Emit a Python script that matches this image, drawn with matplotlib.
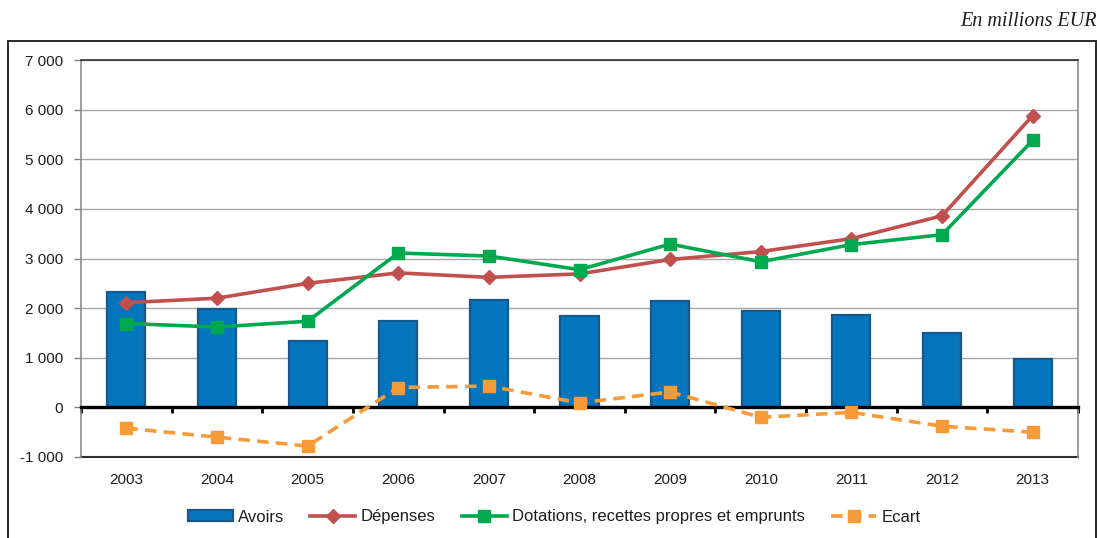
import numpy as np
import matplotlib
matplotlib.use("Agg")
import matplotlib.pyplot as plt
from matplotlib.patches import Rectangle
from matplotlib.lines import Line2D
from matplotlib.ticker import FuncFormatter

plt.rcParams['font.family'] = ['Liberation Sans', 'DejaVu Sans']

years = ["2003", "2004", "2005", "2006", "2007", "2008", "2009", "2010", "2011", "2012", "2013"]
avoirs = [2330, 1990, 1340, 1750, 2170, 1840, 2140, 1940, 1860, 1490, 975]
depenses = [2110, 2200, 2500, 2710, 2620, 2690, 2980, 3140, 3400, 3860, 5880]
dotations = [1690, 1620, 1735, 3110, 3050, 2775, 3290, 2935, 3280, 3480, 5380]
ecart = [-420, -600, -780, 400, 430, 90, 310, -200, -100, -380, -500]

yticks = [-1000, 0, 1000, 2000, 3000, 4000, 5000, 6000, 7000]

BLUE = "#0575BE"
BLUE_EDGE = "#17588C"
RED = "#C0504D"
GREEN = "#00A94F"
ORANGE = "#F79A38"
TXT = "#1E1E1E"

fig = plt.figure(figsize=(11.0, 5.38), dpi=100)
ax = fig.add_axes([81 / 1100, 1 - 457 / 538, (1078 - 81) / 1100, (457 - 60) / 538])

x = np.arange(len(years))

# horizontal gridlines
for v in yticks:
    if v > 0:
        ax.axhline(v, color="#A6A6A6", lw=1.0, zorder=0)

ax.bar(x, avoirs, width=0.42, color=BLUE, edgecolor=BLUE_EDGE, linewidth=1.6, zorder=2)
ax.plot(x, depenses, color=RED, lw=2.6, marker="D", markersize=7.3, zorder=4)
ax.plot(x, dotations, color=GREEN, lw=2.6, marker="s", markersize=9, zorder=5)
ax.plot(x, ecart, color=ORANGE, lw=2.6, ls=(0, (3.2, 2.0)), marker="s", markersize=8.2, zorder=4)

ax.set_xlim(-0.5, len(years) - 0.5)
ax.set_ylim(-1000, 7000)

# y axis
ax.set_yticks(yticks)
ax.yaxis.set_major_formatter(FuncFormatter(lambda v, p: f"{int(v):,}".replace(",", " ")))
ax.tick_params(axis="y", direction="out", length=5, width=1, color="#808080",
               labelsize=11, labelcolor=TXT, pad=8)

# x axis crossing at zero with ticks between categories
ax.spines["bottom"].set_position(("data", 0))
ax.spines["bottom"].set_color("black")
ax.spines["bottom"].set_linewidth(2.4)
ax.spines["bottom"].set_zorder(3)
ax.set_xticks(np.arange(-0.5, len(years), 1.0))
ax.tick_params(axis="x", direction="out", length=4, width=2, color="black", labelbottom=False)

ax.spines["left"].set_color("#8C8C8C")
ax.spines["left"].set_linewidth(1.2)
ax.spines["right"].set_color("#8C8C8C")
ax.spines["right"].set_linewidth(1.2)
ax.spines["top"].set_color("#303030")
ax.spines["top"].set_linewidth(1.2)
ax.axhline(-1000, color="#303030", lw=1.5, clip_on=False, zorder=1)

for i, yr in enumerate(years):
    ax.annotate(yr, (i, 0), xycoords=("data", "axes fraction"), xytext=(0, -16.5),
                textcoords="offset points", ha="center", va="center", fontsize=11, color=TXT)

# legend
handles = [
    Rectangle((0, 0), 1, 1, facecolor=BLUE, edgecolor=BLUE_EDGE, linewidth=1.6),
    Line2D([], [], color=RED, lw=2.6, marker="D", markersize=7.3),
    Line2D([], [], color=GREEN, lw=2.6, marker="s", markersize=9),
    Line2D([], [], color=ORANGE, lw=2.6, ls=(0, (3.2, 2.0)), marker="s", markersize=8.2),
]
labels = ["Avoirs", "Dépenses", "Dotations, recettes propres et emprunts", "Ecart"]
fig.legend(handles, labels, loc="center", bbox_to_anchor=(554 / 1100, 1 - 517 / 538), ncol=4,
           frameon=False, fontsize=12, handlelength=2.7, handletextpad=0.3,
           columnspacing=1.6, handleheight=0.6, labelcolor=TXT)

# outer frame
fig.add_artist(Rectangle((8 / 1100, -0.05), (1096 - 8) / 1100, 1 - 41 / 538 + 0.05,
                         transform=fig.transFigure, fill=False, edgecolor="#1A1A1A",
                         linewidth=1.3, clip_on=False))

fig.text(1097 / 1100, 1 - 22 / 538, "En millions EUR", ha="right", va="center",
         fontsize=14.5, style="italic", family=["Liberation Serif", "DejaVu Serif"], color=TXT)

fig.savefig("out.png", dpi=100)
